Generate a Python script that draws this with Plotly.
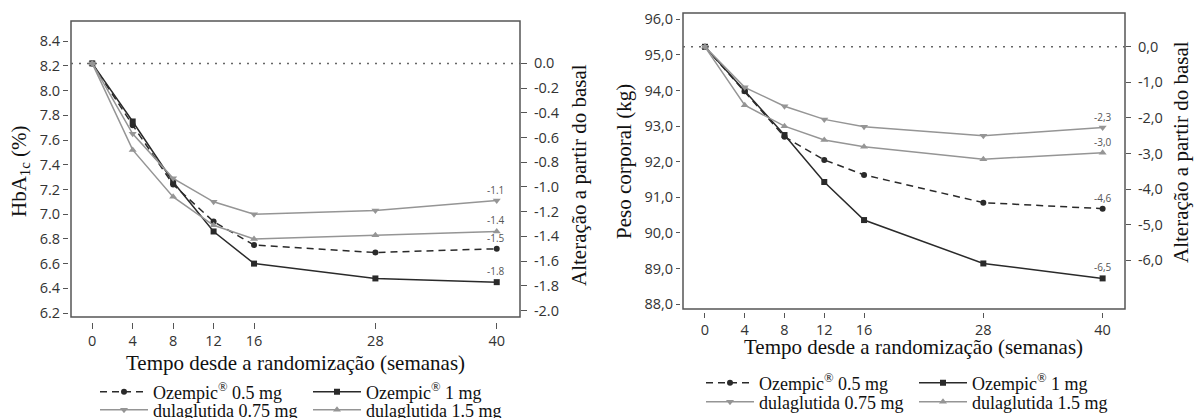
import plotly.graph_objects as go

W, H = 1194, 418

weeks = [0, 4, 8, 12, 16, 28, 40]
series_names = ["Ozempic<sup>®</sup> 0.5 mg", "Ozempic<sup>®</sup> 1 mg",
                "dulaglutida 0.75 mg", "dulaglutida 1.5 mg"]

# HbA1c (%)
hba1c_base = 8.22
hba1c_oz05 = [8.22, 7.72, 7.24, 6.94, 6.75, 6.69, 6.72]
hba1c_oz1 = [8.22, 7.75, 7.26, 6.86, 6.60, 6.48, 6.45]
hba1c_du075 = [8.22, 7.65, 7.29, 7.10, 7.00, 7.03, 7.11]
hba1c_du15 = [8.22, 7.52, 7.14, 6.91, 6.80, 6.83, 6.86]
hba1c_change_labels = ["-1.5", "-1.8", "-1.1", "-1.4"]
hba1c_ticks = [6.2, 6.4, 6.6, 6.8, 7.0, 7.2, 7.4, 7.6, 7.8, 8.0, 8.2, 8.4]
hba1c_change_ticks = [0.0, -0.2, -0.4, -0.6, -0.8, -1.0, -1.2, -1.4, -1.6, -1.8, -2.0]

# Peso corporal (kg)
weight_base = 95.23
w_oz05 = [95.23, 93.98, 92.70, 92.05, 91.63, 90.85, 90.68]
w_oz1 = [95.23, 94.00, 92.75, 91.43, 90.36, 89.14, 88.72]
w_du075 = [95.23, 94.09, 93.56, 93.19, 92.98, 92.73, 92.96]
w_du15 = [95.23, 93.59, 93.00, 92.61, 92.42, 92.07, 92.25]
weight_change_labels = ["-4,6", "-6,5", "-2,3", "-3,0"]
weight_ticks = [88, 89, 90, 91, 92, 93, 94, 95, 96]
weight_change_ticks = [0, -1, -2, -3, -4, -5, -6]

dark = "#2a2a2a"
grey = "#959595"
styles = [
    dict(color=dark, dash="7px,5px", symbol="circle", size=6),
    dict(color=dark, dash="solid", symbol="square", size=6),
    dict(color=grey, dash="solid", symbol="triangle-down", size=7),
    dict(color=grey, dash="solid", symbol="triangle-up", size=7),
]
legend_ids_left = ["legend", "legend", "legend2", "legend2"]
legend_ids_right = ["legend3", "legend3", "legend4", "legend4"]

SANS = "Open Sans"
SERIF = "Liberation Serif"

fig = go.Figure()


def add_series(data, xa, ya, legends):
    for vals, name, st, lg in zip(data, series_names, styles, legends):
        fig.add_trace(go.Scatter(
            x=weeks, y=vals, name=name, mode="lines+markers",
            xaxis=xa, yaxis=ya, legend=lg,
            line=dict(color=st["color"], width=1.5, dash=st["dash"]),
            marker=dict(symbol=st["symbol"], size=st["size"], color=st["color"]),
            cliponaxis=False,
        ))


add_series([hba1c_oz05, hba1c_oz1, hba1c_du075, hba1c_du15], "x", "y", legend_ids_left)
add_series([w_oz05, w_oz1, w_du075, w_du15], "x2", "y3", legend_ids_right)


def px_x(p):
    return p / W


def px_y(p):
    return 1 - p / H


tick_font = dict(family=SANS, size=14.5, color="#333")
axis_common = dict(showgrid=False, zeroline=False, showline=False, ticks="outside",
                   tickcolor="#555", tickwidth=1.2, tickfont=tick_font)

fig.update_layout(
    width=W, height=H, margin=dict(l=0, r=0, t=0, b=0, autoexpand=False),
    paper_bgcolor="white", plot_bgcolor="white",
    xaxis=dict(domain=[px_x(71), px_x(520)], range=[-2.1, 42.3], anchor="free",
               position=px_y(322), tickvals=weeks, ticklen=6, **axis_common),
    yaxis=dict(domain=[px_y(317), px_y(21)], range=[6.168, 8.563], anchor="free",
               position=px_x(68), tickvals=hba1c_ticks,
               ticktext=[f"{v:.1f}" for v in hba1c_ticks], ticklen=5, **axis_common),
    yaxis2=dict(overlaying="y", side="right", anchor="x",
                range=[6.168 - hba1c_base, 8.563 - hba1c_base],
                tickvals=hba1c_change_ticks,
                ticktext=[f"{v:.1f}".replace("-0.0", "0.0") for v in hba1c_change_ticks],
                ticklen=6, ticklabelstandoff=4, **axis_common),
    xaxis2=dict(domain=[px_x(683), px_x(1125)], range=[-2.21, 42.25], anchor="free",
                position=px_y(312), tickvals=weeks, ticklen=5, **axis_common),
    yaxis3=dict(domain=[px_y(309), px_y(13)], range=[87.86, 96.18], anchor="free",
                position=px_x(680), tickvals=weight_ticks,
                ticktext=[f"{v:.1f}".replace(".", ",") for v in weight_ticks],
                ticklen=4, **axis_common),
    yaxis4=dict(overlaying="y3", side="right", anchor="x2",
                range=[87.86 - weight_base, 96.18 - weight_base],
                tickvals=weight_change_ticks,
                ticktext=[f"{v:.1f}".replace(".", ",").replace("-0,0", "0,0") for v in weight_change_ticks],
                ticklen=5, ticklabelstandoff=4, **axis_common),
    showlegend=True,
)

legend_common = dict(orientation="h", bgcolor="rgba(0,0,0,0)", borderwidth=0,
                     font=dict(family=SERIF, size=18, color="#111"),
                     itemwidth=48, entrywidthmode="pixels", entrywidth=150,
                     xanchor="left", yanchor="middle", traceorder="normal",
                     itemclick=False, itemdoubleclick=False)
fig.update_layout(
    legend=dict(x=px_x(95), y=px_y(392), **legend_common),
    legend2=dict(x=px_x(95), y=px_y(410), **legend_common),
    legend3=dict(x=px_x(701), y=px_y(383), **legend_common),
    legend4=dict(x=px_x(701), y=px_y(402), **legend_common),
)

# frames and baseline dotted lines
for xa, ya, ya2 in [("x", "y", "y2"), ("x2", "y3", "y4")]:
    fig.add_shape(type="rect", xref=f"{xa} domain", yref=f"{ya} domain",
                  x0=0, x1=1, y0=0, y1=1, line=dict(color="#555", width=1.5), layer="above")
    fig.add_shape(type="line", xref=f"{xa} domain", yref=ya2, x0=0, x1=1, y0=0, y1=0,
                  line=dict(color="#666", width=1.5, dash="2px,6px"))

# end-point change labels
label_font = dict(family=SANS, size=10, color="#555")
for vals, lab in zip([hba1c_oz05, hba1c_oz1, hba1c_du075, hba1c_du15], hba1c_change_labels):
    fig.add_annotation(x=weeks[-1], y=vals[-1], xref="x", yref="y", text=lab,
                       showarrow=False, yshift=11, xshift=-1, font=label_font)
for vals, lab in zip([w_oz05, w_oz1, w_du075, w_du15], weight_change_labels):
    fig.add_annotation(x=weeks[-1], y=vals[-1], xref="x2", yref="y3", text=lab,
                       showarrow=False, yshift=11, font=label_font)

# axis titles
title_font = dict(family=SERIF, size=21, color="#111")
titles = [
    ("HbA<sub>1c</sub> (%)", 20, 172, -90),
    ("Alteração a partir do basal", 579, 175, -90),
    ("Tempo desde a randomização (semanas)", 295, 363, 0),
    ("Peso corporal (kg)", 624, 162, -90),
    ("Alteração a partir do basal", 1181, 152, -90),
    ("Tempo desde a randomização (semanas)", 913, 347, 0),
]
for text, cx, cy, ang in titles:
    fig.add_annotation(x=px_x(cx), y=px_y(cy), xref="paper", yref="paper", text=text,
                       showarrow=False, textangle=ang, xanchor="center", yanchor="middle",
                       font=title_font)

fig.write_html("out.html")
